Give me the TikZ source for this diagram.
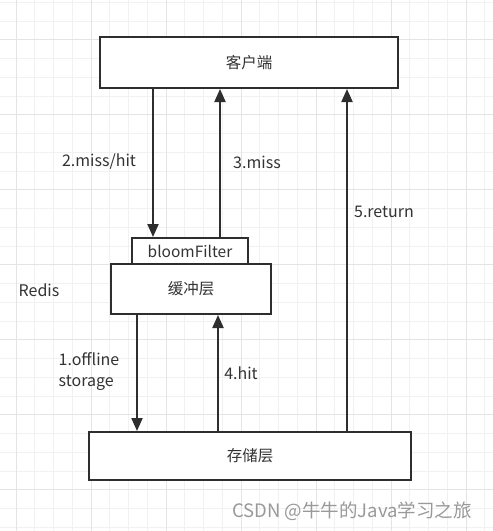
\documentclass[tikz,border=0pt]{standalone}
\usepackage{fontspec}
\setmainfont{Noto Sans CJK SC}
\usetikzlibrary{arrows.meta}
\definecolor{ink}{HTML}{2E2E2E}
\definecolor{txt}{HTML}{333333}
\definecolor{gridminor}{HTML}{F1F1F1}
\definecolor{gridmajor}{HTML}{E4E4E4}
\tikzset{
  box/.style={draw=ink, line width=2pt, fill=white, inner sep=0pt, font=\fontsize{15.5}{18}\selectfont, text=txt},
  arr/.style={draw=ink, line width=2pt, -{Triangle[width=11pt,length=13pt]}},
  lbl/.style={font=\fontsize{16}{21}\selectfont, text=txt, inner sep=0pt},
}
\begin{document}
\begin{tikzpicture}[x=1pt,y=-1pt]
\useasboundingbox (0,0) rectangle (493,531);
\fill[white] (0,0) rectangle (493,531);
% grid
\foreach \i in {0,...,26} {
  \pgfmathsetmacro\gx{16+18.75*(\i-1)}
  \draw[gridminor, line width=1pt] (\gx,0) -- (\gx,531);
}
\foreach \i in {0,...,29} {
  \pgfmathsetmacro\gy{414.75-18.75*(\i-7)}
  \draw[gridminor, line width=1pt] (0,\gy) -- (493,\gy);
}
\foreach \gx in {16,91,166,241,316,391,466}
  \draw[gridmajor, line width=1pt] (\gx,0) -- (\gx,531);
\foreach \gy in {39.75,114.75,189.75,264.75,339.75,414.75,489.75}
  \draw[gridmajor, line width=1pt] (0,\gy) -- (493,\gy);

% boxes
\node[box, minimum width=298pt, minimum height=51pt] (client) at (249,62.5) {客户端};
\node[box, minimum width=160pt, minimum height=50pt] (cache) at (191,289) {缓冲层};
\node[box, minimum width=116pt, minimum height=26pt] (bloom) at (190,251) {bloomFilter};
\node[box, minimum width=322pt, minimum height=48pt] (store) at (250,456) {存储层};

% x positions of connectors
\coordinate (xa) at (153,0);
\coordinate (xb) at (220,0);
\coordinate (xc) at (347,0);
\coordinate (xd) at (137,0);
\coordinate (xe) at (218,0);

\draw[arr] (client.south -| xa) -- (bloom.north -| xa);
\draw[arr] (bloom.north -| xb) -- (client.south -| xb);
\draw[arr] (store.north -| xc) -- (client.south -| xc);
\draw[arr] (cache.south -| xd) -- (store.north -| xd);
\draw[arr] (store.north -| xe) -- (cache.south -| xe);

% labels
\node[lbl] (l2) at (99,162) {2.miss/hit};
\node[lbl] (l3) at (257,162) {3.miss};
\node[lbl] (l5) at (384,212) {5.return};
\node[lbl] (lr) at (39,290) {Redis};
\node[lbl, align=left] (l1) at (89,372) {1.offline\\storage};
\node[lbl] (l4) at (241,373) {4.hit};
\node[lbl, text=black!40, font=\fontsize{18.5}{20}\selectfont] (wm) at (352,511) {CSDN @牛牛的Java学习之旅};
\end{tikzpicture}
\end{document}
